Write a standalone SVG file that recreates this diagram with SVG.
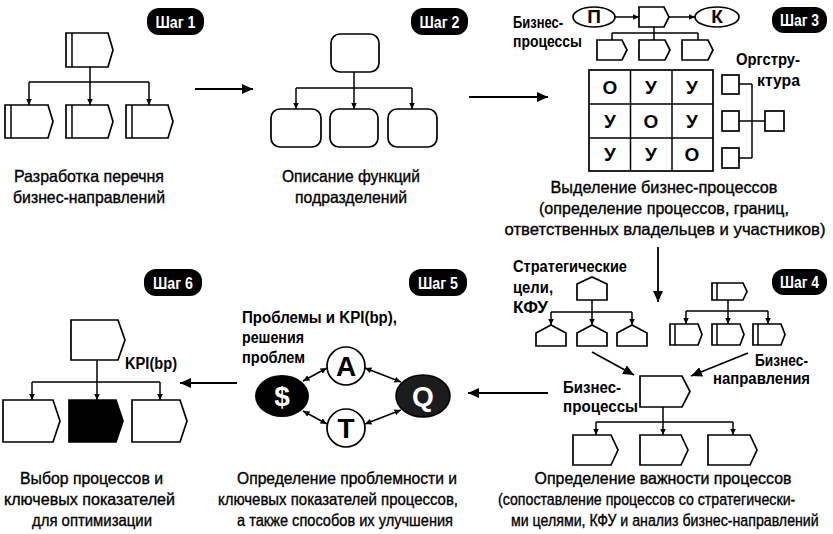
<svg xmlns="http://www.w3.org/2000/svg" width="833" height="534" viewBox="0 0 833 534">
<defs>
<style>
.sh{fill:#fff;stroke:#000;stroke-width:1.7;stroke-linejoin:miter}
.ln{fill:none;stroke:#000;stroke-width:1.5}
.flow{fill:none;stroke:#000;stroke-width:1.8}
.cap{font-family:"Liberation Sans",Arial,sans-serif;font-size:16.5px;fill:#000;stroke:#000;stroke-width:0.35}
.lbl{font-family:"Liberation Sans",Arial,sans-serif;font-size:16px;font-weight:bold;fill:#000}
.badge rect{fill:#000}
.badge text{font-family:"Liberation Sans",Arial,sans-serif;font-size:16px;font-weight:bold;fill:#fff;text-anchor:middle}
.cell{font-family:"Liberation Sans",Arial,sans-serif;font-size:19px;font-weight:bold;text-anchor:middle;fill:#000}
.big{font-family:"Liberation Sans",Arial,sans-serif;font-size:28px;font-weight:bold;text-anchor:middle}
</style>
<marker id="ah" markerUnits="userSpaceOnUse" markerWidth="12" markerHeight="10" refX="11" refY="5" orient="auto"><path d="M0,0 L11,5 L0,10 Z" fill="#000"/></marker>
<marker id="as" markerUnits="userSpaceOnUse" markerWidth="7" markerHeight="6" refX="6.5" refY="3" orient="auto"><path d="M0,0 L6.5,3 L0,6 Z" fill="#000"/></marker>
<marker id="ad" markerUnits="userSpaceOnUse" markerWidth="7" markerHeight="6" refX="6.5" refY="3" orient="auto-start-reverse"><path d="M0,0 L6.5,3 L0,6 Z" fill="#000"/></marker>
</defs>

<g id="connectors">
<line class="flow" x1="195" y1="89" x2="253" y2="89" marker-end="url(#ah)"/>
<line class="flow" x1="469" y1="97" x2="548" y2="97" marker-end="url(#ah)"/>
<line class="flow" x1="658" y1="247" x2="658" y2="302" marker-end="url(#ah)"/>
<line class="flow" x1="548" y1="393" x2="468" y2="393" marker-end="url(#ah)"/>
<line class="flow" x1="237" y1="383" x2="180" y2="383" marker-end="url(#ah)"/>
<path class="ln" d="M90,67 V82 M29,82 H149"/>
<line class="ln" x1="29" y1="82" x2="29" y2="105" marker-end="url(#as)"/>
<line class="ln" x1="90" y1="82" x2="90" y2="105" marker-end="url(#as)"/>
<line class="ln" x1="149" y1="82" x2="149" y2="105" marker-end="url(#as)"/>
<path class="ln" d="M354,72 V88 M296,88 H412"/>
<line class="ln" x1="296" y1="88" x2="296" y2="109" marker-end="url(#as)"/>
<line class="ln" x1="354" y1="88" x2="354" y2="109" marker-end="url(#as)"/>
<line class="ln" x1="412" y1="88" x2="412" y2="109" marker-end="url(#as)"/>
<line class="ln" x1="615" y1="17" x2="639" y2="17" marker-end="url(#as)"/>
<line class="ln" x1="669" y1="17" x2="695" y2="17" marker-end="url(#as)"/>
<path class="ln" d="M654,27 V40 M612,33 H698 M612,33 V40 M698,33 V40"/>
<path class="ln" d="M739,84 H752 M739,121 H765 M739,158 H752 M752,84 V158"/>
<path class="ln" d="M592,300 V312 M551,312 H632"/>
<line class="ln" x1="551" y1="312" x2="551" y2="325" marker-end="url(#as)"/>
<line class="ln" x1="592" y1="312" x2="592" y2="325" marker-end="url(#as)"/>
<line class="ln" x1="632" y1="312" x2="632" y2="325" marker-end="url(#as)"/>
<path class="ln" d="M728,300 V311 M686,311 H768"/>
<line class="ln" x1="686" y1="311" x2="686" y2="324" marker-end="url(#as)"/>
<line class="ln" x1="728" y1="311" x2="728" y2="324" marker-end="url(#as)"/>
<line class="ln" x1="768" y1="311" x2="768" y2="324" marker-end="url(#as)"/>
<line class="flow" x1="592" y1="352" x2="634" y2="375" marker-end="url(#ah)"/>
<line class="flow" x1="748" y1="353" x2="691" y2="376" marker-end="url(#ah)"/>
<path class="ln" d="M663,407 V422 M596,422 H733"/>
<line class="ln" x1="596" y1="422" x2="596" y2="435" marker-end="url(#as)"/>
<line class="ln" x1="663" y1="422" x2="663" y2="435" marker-end="url(#as)"/>
<line class="ln" x1="733" y1="422" x2="733" y2="435" marker-end="url(#as)"/>
<line class="ln" x1="303" y1="381" x2="327" y2="368" marker-start="url(#ad)" marker-end="url(#ad)"/>
<line class="ln" x1="365" y1="368" x2="401" y2="382" marker-start="url(#ad)" marker-end="url(#ad)"/>
<line class="ln" x1="303" y1="411" x2="327" y2="424" marker-start="url(#ad)" marker-end="url(#ad)"/>
<line class="ln" x1="365" y1="424" x2="401" y2="410" marker-start="url(#ad)" marker-end="url(#ad)"/>
<path class="ln" d="M97,360 V382 M32,382 H160"/>
<line class="ln" x1="32" y1="382" x2="32" y2="400" marker-end="url(#as)"/>
<line class="ln" x1="97" y1="382" x2="97" y2="400" marker-end="url(#as)"/>
<line class="ln" x1="160" y1="382" x2="160" y2="400" marker-end="url(#as)"/>
</g>

<g id="step1">
<g class="badge"><rect x="147" y="8" width="57" height="27" rx="12"/><text x="175.5" y="27.5" textLength="40" lengthAdjust="spacingAndGlyphs">Шаг 1</text></g>
<g id="s1-top"><path class="sh" d="M66,33 H108 L113,50 L108,67 H66 Z"/><line class="ln" x1="72" y1="33" x2="72" y2="67"/></g>
<g id="s1-b1"><path class="sh" d="M5,105 H48 L53,121.5 L48,138 H5 Z"/><line class="ln" x1="11" y1="105" x2="11" y2="138"/></g>
<g id="s1-b2"><path class="sh" d="M66,105 H108 L113,121.5 L108,138 H66 Z"/><line class="ln" x1="72" y1="105" x2="72" y2="138"/></g>
<g id="s1-b3"><path class="sh" d="M126,105 H168 L173,121.5 L168,138 H126 Z"/><line class="ln" x1="132" y1="105" x2="132" y2="138"/></g>
<text class="cap" x="89" y="182" text-anchor="middle" textLength="150" lengthAdjust="spacingAndGlyphs">Разработка перечня</text>
<text class="cap" x="89" y="203" text-anchor="middle" textLength="152" lengthAdjust="spacingAndGlyphs">бизнес-направлений</text>
</g>

<g id="step2">
<g class="badge"><rect x="411" y="8" width="57" height="27" rx="12"/><text x="439.5" y="27.5" textLength="40" lengthAdjust="spacingAndGlyphs">Шаг 2</text></g>
<rect id="s2-top" class="sh" x="331" y="34" width="48" height="38" rx="9"/>
<rect id="s2-b1" class="sh" x="271" y="109" width="50" height="38" rx="9"/>
<rect id="s2-b2" class="sh" x="330" y="109" width="48" height="38" rx="9"/>
<rect id="s2-b3" class="sh" x="388" y="109" width="49" height="38" rx="9"/>
<text class="cap" x="351" y="182" text-anchor="middle" textLength="138" lengthAdjust="spacingAndGlyphs">Описание функций</text>
<text class="cap" x="351" y="203" text-anchor="middle" textLength="112" lengthAdjust="spacingAndGlyphs">подразделений</text>
</g>

<g id="step3">
<g class="badge"><rect x="772" y="7" width="55" height="26" rx="12"/><text x="799.5" y="26" textLength="39" lengthAdjust="spacingAndGlyphs">Шаг 3</text></g>
<text class="lbl" x="513" y="28" textLength="50" lengthAdjust="spacingAndGlyphs">Бизнес-</text>
<text class="lbl" x="513" y="47" textLength="69" lengthAdjust="spacingAndGlyphs">процессы</text>
<g id="s3-p"><ellipse class="sh" cx="594" cy="17" rx="21" ry="10"/><text class="cell" x="594" y="23" font-size="17">П</text></g>
<path id="s3-proc" class="sh" d="M639,7 H664 L669,17 L664,27 H639 Z"/>
<g id="s3-k"><ellipse class="sh" cx="717" cy="17" rx="22" ry="10"/><text class="cell" x="717" y="23" font-size="17">К</text></g>
<path id="s3-b1" class="sh" d="M597,40 H622 L627,50 L622,60 H597 Z"/>
<path id="s3-b2" class="sh" d="M639,40 H665 L670,50 L665,60 H639 Z"/>
<path id="s3-b3" class="sh" d="M682,40 H708 L713,50 L708,60 H682 Z"/>
<g id="s3-matrix">
<rect class="sh" x="589" y="70" width="124" height="101"/>
<path class="ln" d="M630.5,70 V171 M672,70 V171 M589,104 H713 M589,138 H713" stroke-width="1.7"/>
<text class="cell" x="610" y="94">О</text><text class="cell" x="651" y="94">У</text><text class="cell" x="692" y="94">У</text>
<text class="cell" x="610" y="128">У</text><text class="cell" x="651" y="128">О</text><text class="cell" x="692" y="128">У</text>
<text class="cell" x="610" y="161">У</text><text class="cell" x="651" y="161">У</text><text class="cell" x="692" y="161">О</text>
</g>
<g id="s3-org">
<rect class="sh" x="722" y="75" width="17" height="19"/>
<rect class="sh" x="722" y="111" width="17" height="20"/>
<rect class="sh" x="722" y="148" width="17" height="20"/>
<rect class="sh" x="765" y="111" width="19" height="20"/>
</g>
<text class="lbl" x="800" y="65" text-anchor="end" textLength="64" lengthAdjust="spacingAndGlyphs">Оргстру-</text>
<text class="lbl" x="800" y="86" text-anchor="end" textLength="43" lengthAdjust="spacingAndGlyphs">ктура</text>
<text class="cap" x="664" y="193" text-anchor="middle" textLength="227" lengthAdjust="spacingAndGlyphs">Выделение бизнес-процессов</text>
<text class="cap" x="664" y="214" text-anchor="middle" textLength="250" lengthAdjust="spacingAndGlyphs">(определение процессов, границ,</text>
<text class="cap" x="665" y="235" text-anchor="middle" textLength="321" lengthAdjust="spacingAndGlyphs">ответственных владельцев и участников)</text>
</g>

<g id="step4">
<g class="badge"><rect x="772" y="269" width="55" height="26" rx="12"/><text x="799.5" y="288" textLength="39" lengthAdjust="spacingAndGlyphs">Шаг 4</text></g>
<text class="lbl" x="513" y="272" textLength="114" lengthAdjust="spacingAndGlyphs">Стратегические</text>
<text class="lbl" x="513" y="293" textLength="40" lengthAdjust="spacingAndGlyphs">цели,</text>
<text class="lbl" x="513" y="313" textLength="35" lengthAdjust="spacingAndGlyphs">КФУ</text>
<path id="s4-goal" class="sh" d="M577,284 L592,277 L607,284 V300 H577 Z"/>
<path id="s4-g1" class="sh" d="M536,333 L551,325 L566,333 V346 H536 Z"/>
<path id="s4-g2" class="sh" d="M577,333 L592,325 L607,333 V346 H577 Z"/>
<path id="s4-g3" class="sh" d="M617,333 L632,325 L647,333 V346 H617 Z"/>
<g id="s4-dir"><path class="sh" d="M712,283 H743 L747,291.5 L743,300 H712 Z"/><line class="ln" x1="717" y1="283" x2="717" y2="300"/></g>
<g id="s4-d1"><path class="sh" d="M670,324 H698 L702,334.5 L698,345 H670 Z"/><line class="ln" x1="675" y1="324" x2="675" y2="345"/></g>
<g id="s4-d2"><path class="sh" d="M712,324 H740 L744,334.5 L740,345 H712 Z"/><line class="ln" x1="717" y1="324" x2="717" y2="345"/></g>
<g id="s4-d3"><path class="sh" d="M753,324 H781 L785,334.5 L781,345 H753 Z"/><line class="ln" x1="758" y1="324" x2="758" y2="345"/></g>
<text class="lbl" x="808" y="366" text-anchor="end" textLength="53" lengthAdjust="spacingAndGlyphs">Бизнес-</text>
<text class="lbl" x="810" y="384" text-anchor="end" textLength="97" lengthAdjust="spacingAndGlyphs">направления</text>
<text class="lbl" x="563" y="393" textLength="58" lengthAdjust="spacingAndGlyphs">Бизнес-</text>
<text class="lbl" x="563" y="412" textLength="75" lengthAdjust="spacingAndGlyphs">процессы</text>
<path id="s4-main" class="sh" d="M640,376 H682 L690,391.5 L682,407 H640 Z"/>
<path id="s4-p1" class="sh" d="M573,435 H611 L618,450 L611,465 H573 Z"/>
<path id="s4-p2" class="sh" d="M640,435 H681 L688,450 L681,465 H640 Z"/>
<path id="s4-p3" class="sh" d="M708,435 H750 L757,450 L750,465 H708 Z"/>
<text class="cap" x="663" y="484" text-anchor="middle" textLength="257" lengthAdjust="spacingAndGlyphs">Определение важности процессов</text>
<text class="cap" transform="translate(498,505) scale(0.86,1)" x="0" y="0">(сопоставление процессов со  стратегически-</text>
<text class="cap" transform="translate(511,526) scale(0.86,1)" x="0" y="0">ми целями, КФУ и анализ бизнес-направлений</text>
</g>

<g id="step5">
<g class="badge"><rect x="409" y="269" width="58" height="27" rx="12"/><text x="438" y="288.5" textLength="40" lengthAdjust="spacingAndGlyphs">Шаг 5</text></g>
<text class="lbl" x="242" y="323" textLength="155" lengthAdjust="spacingAndGlyphs">Проблемы и KPI(bp),</text>
<text class="lbl" x="242" y="343" textLength="62" lengthAdjust="spacingAndGlyphs">решения</text>
<text class="lbl" x="242" y="363" textLength="63" lengthAdjust="spacingAndGlyphs">проблем</text>
<g id="s5-a"><circle class="sh" cx="346" cy="366" r="19"/><text class="big" x="346" y="376" fill="#000">A</text></g>
<g id="s5-t"><circle class="sh" cx="346" cy="428" r="19"/><text class="big" x="346" y="438" fill="#000">T</text></g>
<g id="s5-s"><ellipse cx="282" cy="396" rx="27" ry="21" fill="#000"/><text class="big" x="282" y="406" fill="#fff">$</text></g>
<g id="s5-q"><ellipse cx="423" cy="396" rx="27" ry="21" fill="#1c1c1c" stroke="#000" stroke-width="1.5"/><text class="big" x="423" y="406" fill="#fff">Q</text></g>
<text class="cap" x="237" y="484" textLength="220" lengthAdjust="spacingAndGlyphs">Определение проблемности и</text>
<text class="cap" x="218" y="505" textLength="240" lengthAdjust="spacingAndGlyphs">ключевых показателей процессов,</text>
<text class="cap" x="237" y="526" textLength="216" lengthAdjust="spacingAndGlyphs">а также способов их улучшения</text>
</g>

<g id="step6">
<g class="badge"><rect x="144" y="269" width="58" height="27" rx="12"/><text x="173" y="288.5" textLength="40" lengthAdjust="spacingAndGlyphs">Шаг 6</text></g>
<path id="s6-top" class="sh" d="M71,320 H118 L125,340 L118,360 H71 Z"/>
<text class="lbl" x="125" y="369" textLength="52" lengthAdjust="spacingAndGlyphs">KPI(bp)</text>
<path id="s6-b1" class="sh" d="M3,400 H53 L60,421 L53,442 H3 Z"/>
<path id="s6-b2" d="M69,400 H116 L123,421 L116,442 H69 Z" fill="#000" stroke="#000" stroke-width="1.7"/>
<path id="s6-b3" class="sh" d="M132,400 H180 L187,421 L180,442 H132 Z"/>
<text class="cap" x="20" y="484" textLength="143" lengthAdjust="spacingAndGlyphs">Выбор процессов и</text>
<text class="cap" x="4" y="505" textLength="171" lengthAdjust="spacingAndGlyphs">ключевых показателей</text>
<text class="cap" x="32" y="526" textLength="120" lengthAdjust="spacingAndGlyphs">для оптимизации</text>
</g>
</svg>
